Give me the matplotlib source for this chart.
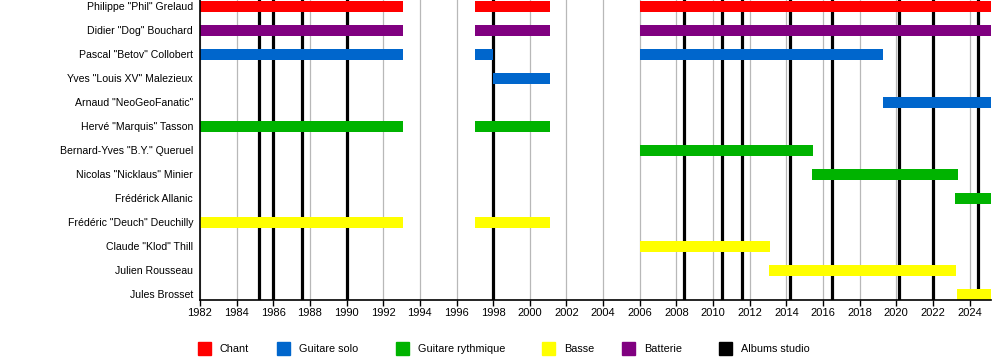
import matplotlib
matplotlib.use("Agg")
import matplotlib.pyplot as plt
from matplotlib.patches import Rectangle

plt.rcParams["font.family"] = ["Liberation Sans", "DejaVu Sans"]

END = 2025.17

# Members, top to bottom
members = [
    'Philippe "Phil" Grelaud',
    'Didier "Dog" Bouchard',
    'Pascal "Betov" Collobert',
    'Yves "Louis XV" Malezieux',
    'Arnaud "NeoGeoFanatic"',
    'Hervé "Marquis" Tasson',
    'Bernard-Yves "B.Y." Queruel',
    'Nicolas "Nicklaus" Minier',
    'Frédérick Allanic',
    'Frédéric "Deuch" Deuchilly',
    'Claude "Klod" Thill',
    'Julien Rousseau',
    'Jules Brosset',
]

# (member index, start, end, role)
periods = [
    (0, 1982, 1993.1, "Chant"), (0, 1997, 2001.1, "Chant"), (0, 2006, END, "Chant"),
    (1, 1982, 1993.1, "Batterie"), (1, 1997, 2001.1, "Batterie"), (1, 2006, END, "Batterie"),
    (2, 1982, 1993.1, "Guitare solo"), (2, 1997, 1998, "Guitare solo"), (2, 2006, 2019.25, "Guitare solo"),
    (3, 1998, 2001.1, "Guitare solo"),
    (4, 2019.3, END, "Guitare solo"),
    (5, 1982, 1993.1, "Guitare rythmique"), (5, 1997, 2001.1, "Guitare rythmique"),
    (6, 2006, 2015.45, "Guitare rythmique"),
    (7, 2015.4, 2023.35, "Guitare rythmique"),
    (8, 2023.2, END, "Guitare rythmique"),
    (9, 1982, 1993.1, "Basse"), (9, 1997, 2001.1, "Basse"),
    (10, 2006, 2013.1, "Basse"),
    (11, 2013.05, 2023.25, "Basse"),
    (12, 2023.3, END, "Basse"),
]

albums = [1985.2, 1986.0, 1987.55, 1990.0, 1998.0, 2008.4, 2010.5, 2011.6,
          2014.2, 2016.5, 2020.15, 2022.0, 2024.45]

roles = ["Chant", "Guitare solo", "Guitare rythmique", "Basse", "Batterie", "Albums studio"]
role_colors = {
    "Chant": "#ff0000",
    "Guitare solo": "#0066cc",
    "Guitare rythmique": "#00b300",
    "Basse": "#ffff00",
    "Batterie": "#800080",
    "Albums studio": "#000000",
}

fig = plt.figure(figsize=(10, 3.6), dpi=100)
ax = fig.add_axes([0.2, 1 - 300 / 360, 0.791, 300 / 360])

years = list(range(1982, 2026, 2))
for yr in years:
    ax.axvline(yr, color="#b8b8b8", lw=0.9, zorder=1)
for a in albums:
    ax.axvline(a, color="black", lw=2.3, zorder=2)

for idx, start, end, role in periods:
    ax.barh(idx, end - start, left=start, height=0.46,
            color=role_colors[role], zorder=3)

ax.set_xlim(1982, END)
ax.set_ylim(12.23, -0.27)
ax.set_yticks(range(len(members)))
ax.set_yticklabels(members, fontsize=7.6)
ax.tick_params(axis="y", length=0, pad=5)
ax.set_xticks(years)
ax.set_xticklabels([str(y) for y in years], fontsize=8)
ax.tick_params(axis="x", length=4, width=1, pad=2)
for side in ["top", "right"]:
    ax.spines[side].set_visible(False)
for side in ["left", "bottom"]:
    ax.spines[side].set_linewidth(1.2)
    ax.spines[side].set_zorder(4)

# legend
leg_x = [198, 277, 396, 542, 622, 719]
for x, role in zip(leg_x, roles):
    fig.patches.append(Rectangle((x / 1000, 1 - 355 / 360), 13 / 1000, 13 / 360,
                                 transform=fig.transFigure, color=role_colors[role]))
    fig.text((x + 22) / 1000, 1 - 349 / 360, role, fontsize=7.8, va="center")

fig.savefig("out.png", dpi=100)
